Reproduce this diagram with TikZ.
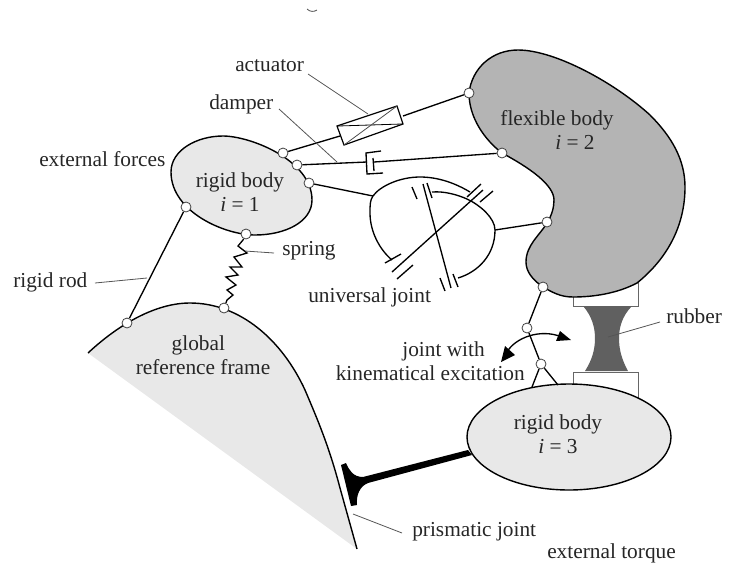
\documentclass[tikz,border=0pt]{standalone}
\usepackage{fontspec}
\setmainfont{Liberation Serif}
\definecolor{lightbody}{HTML}{E8E8E8}
\definecolor{flexgray}{HTML}{B4B4B4}
\definecolor{rubbergray}{HTML}{606060}
\definecolor{leadgray}{HTML}{555555}
\tikzset{
  x=0.75pt,y=-0.75pt,
  outline/.style={draw=black,line width=1.05pt},
  rod/.style={draw=black,line width=1pt},
  lead/.style={draw=leadgray,line width=0.6pt},
  pin/.style={circle,draw=black!75,fill=white,line width=0.6pt,inner sep=0pt,minimum size=7.5pt},
  lbl/.style={inner sep=0pt,font=\fontsize{16}{18}\selectfont,text=black!85},
  cntr/.style={lbl,align=center},
  padbox/.style={draw=black!60,fill=white,line width=.7pt}
}
\begin{document}
\begin{tikzpicture}
\useasboundingbox (0,0) rectangle (733,569);
% pads
\draw[padbox] (573,280) rectangle (638,306);
\draw[padbox] (573,372) rectangle (638,400);
% rubber
\fill[rubbergray] (583,306) -- (632,306) .. controls (622,316) and (619,328) .. (619,338) .. controls (619,350) and (622,360) .. (628,371) -- (585,371) .. controls (592,360) and (595,350) .. (595,338) .. controls (595,328) and (592,316) .. (583,306) -- cycle;
% bodies
\path[fill=lightbody] (88,353) .. controls (118,325) and (155,303) .. (190,303) .. controls (240,303) and (282,340) .. (305,390) .. controls (320,425) and (330,450) .. (340,488) -- (357,549) -- cycle;
\draw[outline] (88,353) .. controls (118,325) and (155,303) .. (190,303) .. controls (240,303) and (282,340) .. (305,390) .. controls (320,425) and (330,450) .. (340,488) -- (357,549);
\draw[outline,fill=lightbody] (171,172) .. controls (171,150) and (197,136) .. (223,136) .. controls (250,136) and (312,160) .. (312,200) .. controls (312,222) and (285,235) .. (255,235) .. controls (225,235) and (171,212) .. (171,172) -- cycle;
\draw[outline,fill=flexgray] (469,93) .. controls (472,68) and (492,50) .. (518,50) .. controls (555,50) and (615,83) .. (650,115) .. controls (672,137) and (685,160) .. (685,187) .. controls (685,225) and (668,258) .. (637,283) .. controls (618,293) and (595,297) .. (573,297) .. controls (560,297) and (552,292) .. (543,287) .. controls (533,280) and (526,272) .. (526,262) .. controls (526,245) and (540,235) .. (547,223) .. controls (552,215) and (554,207) .. (554,200) .. controls (554,185) and (530,168) .. (502,153) .. controls (485,140) and (469,118) .. (469,93) -- cycle;
\draw[outline,fill=lightbody] (569,437) ellipse [x radius=102,y radius=53];
% joints
\node[pin] (a1) at (283,153) {};
\node[pin] (d1) at (297,165) {};
\node[pin] (u1) at (309,183) {};
\node[pin] (s1) at (246,234) {};
\node[pin] (r1) at (186,207) {};
\node[pin] (r0) at (127,323) {};
\node[pin] (s0) at (224,308) {};
\node[pin] (a2) at (469,93) {};
\node[pin] (d2) at (502,153) {};
\node[pin] (u2) at (547,222) {};
\node[pin] (k2) at (543,287) {};
\node[pin] (k1) at (527,328) {};
\node[pin] (k3) at (541,364) {};
% actuator
\draw[rod] (a1) -- (340,136);
\draw[rod] (403,116) -- (a2);
\draw[draw=black,line width=.9pt] (337,126) -- (397,106) -- (403,124) -- (344,145) -- cycle;
\draw[draw=black,line width=.6pt] (338,126) -- (402,124);
\draw[draw=black!70,line width=.6pt] (344,145) -- (397,106);
% damper
\draw[rod] (d1) -- (367,162);
\draw[rod] (374,162) -- (d2);
\draw[rod] (381,151) -- (366,153) -- (367,174) -- (383,173);
\draw[rod] (373,158) -- (374,171);
% universal joint
\draw[rod] (u1) -- (373,196);
\draw[rod] (495,230) -- (u2);
\draw[rod] (392,260) .. controls (380,250) and (370,232) .. (370,213) .. controls (370,205) and (370,200) .. (373,196) .. controls (380,186) and (400,177) .. (420,177) .. controls (438,177) and (455,183) .. (470,192);
\draw[rod] (432,192) .. controls (445,191) and (458,195) .. (467,199) .. controls (480,205) and (495,218) .. (495,230) .. controls (495,255) and (478,272) .. (458,278);
\draw[rod] (392,272) -- (483,190);
\draw[rod] (385,263) -- (401,254);
\draw[rod] (397,279) -- (413,265);
\draw[rod] (467,197) -- (481,184);
\draw[rod] (480,202) -- (493,191);
\draw[rod] (423,184) -- (451,288);
\draw[rod] (412,187) -- (417,199);
\draw[rod] (427,183) -- (432,198);
\draw[rod] (440,278) -- (445,291);
\draw[rod] (453,274) -- (458,287);
% spring
\draw[rod,line join=miter] (s1) -- (243,240) -- (238,246) -- (247,253) -- (234,257) -- (242,267) -- (230,267) -- (238,275) -- (226,277) -- (236,285) -- (227,290) -- (233,295) -- (227,300) -- (s0);
% rigid rod
\draw[rod] (r1) -- (r0);
% kinematic joint
\draw[rod] (k2) -- (k1) -- (k3);
\draw[rod] (k3) -- (532,387);
\draw[rod] (k3) -- (558,385);
% arrow
\draw[rod] (507,352) .. controls (515,338) and (540,328) .. (562,337);
\fill[black] (501,362) -- (505,346) -- (515,355) -- cycle;
\fill[black] (571,340) -- (560,331) -- (556,341) -- cycle;
% prismatic joint
\fill[black] (341,465) -- (346,463) .. controls (349,470) and (353,477) .. (363,477) -- (468,450) -- (472,455) -- (368,483) .. controls (360,486) and (356,495) .. (357,505) -- (351,506) -- cycle;
% leaders
\draw[lead] (308,74) -- (368,114);
\draw[lead] (279,109) -- (337,162);
\draw[lead] (245,251) -- (274,253);
\draw[lead] (95,283) -- (147,278);
\draw[lead] (608,337) -- (660,322);
\draw[lead] (353,514) -- (402,533);
% cut-off glyph at the top edge of the scan
\draw[black!70,line width=.6pt] (307,9) .. controls (310,12) and (314,12) .. (317,10);
% labels
\node[lbl,anchor=west] (tact) at (235,66) {actuator};
\node[lbl,anchor=west] (tdam) at (209,104) {damper};
\node[lbl,anchor=west] (text) at (39,159) {external forces};
\node[cntr] (tr1) at (240,192) {rigid body\\\textit{i} = 1};
\node[lbl,anchor=west] (tspr) at (282,251) {spring};
\node[lbl,anchor=west] (tuni) at (308,297) {universal joint};
\node[lbl,anchor=west] (trod) at (13,282) {rigid rod};
\node[cntr] (tgl) at (203,355) {\hspace*{-7pt}global\\reference frame};
\node[cntr] (tflex) at (557,130) {flexible body\\\hspace*{27pt}\textit{i} = 2};
\node[cntr] (tr3) at (558,434) {rigid body\\\textit{i} = 3};
\node[lbl,anchor=west] (trub) at (666,316) {rubber};
\node[lbl,anchor=east,align=right] (tkin) at (525,361) {joint with\hspace*{30pt}\\kinematical excitation};
\node[lbl,anchor=west] (tpri) at (412,532) {prismatic joint};
\node[lbl,anchor=west] (ttor) at (547,553) {external torque};
\end{tikzpicture}
\end{document}
